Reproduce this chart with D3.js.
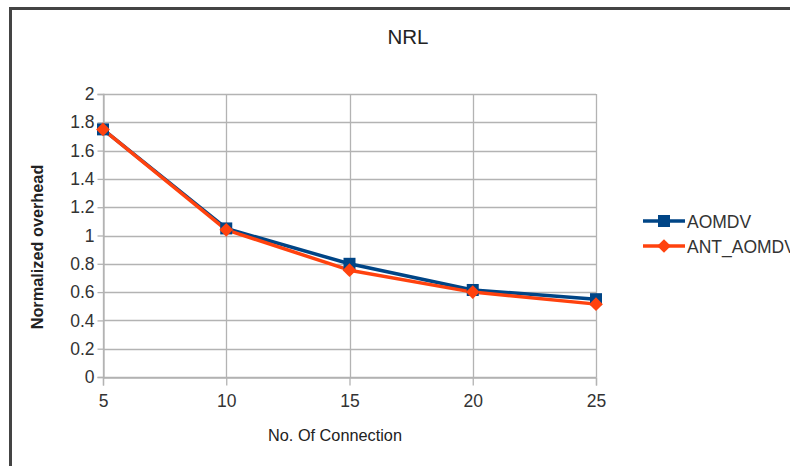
<!DOCTYPE html>
<html>
<head>
<meta charset="utf-8">
<script src="https://cdnjs.cloudflare.com/ajax/libs/d3/7.8.5/d3.min.js"></script>
<style>
html,body{margin:0;padding:0;background:#fff;}
svg{display:block;}
text{font-family:"Liberation Sans",Arial,sans-serif;}
</style>
</head>
<body>
<svg id="chart" width="790" height="466"></svg>
<script>
const connections = [5, 10, 15, 20, 25];
const aomdv = [1.75, 1.05, 0.80, 0.615, 0.55];
const antAomdv = [1.75, 1.04, 0.755, 0.60, 0.515];
const yTicks = [0, 0.2, 0.4, 0.6, 0.8, 1, 1.2, 1.4, 1.6, 1.8, 2];
const xTicks = [5, 10, 15, 20, 25];
const seriesNames = ["AOMDV", "ANT_AOMDV"];

const svg = d3.select("#chart");
const W = 790, H = 466;
const m = {left: 103, right: 596, top: 94, bottom: 377};
const FONT = "Liberation Sans, Arial, sans-serif";

// frame
svg.append("line").attr("x1", 10.5).attr("x2", 10.5).attr("y1", 7).attr("y2", H)
  .attr("stroke", "#444").attr("stroke-width", 3);
svg.append("line").attr("x1", 9).attr("x2", W).attr("y1", 8.5).attr("y2", 8.5)
  .attr("stroke", "#444").attr("stroke-width", 3);

const x = d3.scaleLinear().domain([5, 25]).range([m.left, m.right]);
const y = d3.scaleLinear().domain([0, 2]).range([m.bottom, m.top]);

// title
svg.append("text").attr("x", 408).attr("y", 44).attr("text-anchor", "middle")
  .attr("font-size", 20.5).attr("fill", "#222").text("NRL");

// grid
const g = svg.append("g");
g.selectAll(".hg").data(yTicks).join("line")
  .attr("x1", m.left).attr("x2", m.right)
  .attr("y1", d => Math.round(y(d)) + 0.5).attr("y2", d => Math.round(y(d)) + 0.5)
  .attr("stroke", "#b3b3b3").attr("stroke-width", 1.3);
g.selectAll(".vg").data(xTicks).join("line")
  .attr("x1", d => Math.round(x(d)) + 0.5).attr("x2", d => Math.round(x(d)) + 0.5)
  .attr("y1", m.top).attr("y2", m.bottom)
  .attr("stroke", "#b3b3b3").attr("stroke-width", 1.3);

// axes
const yAxis = d3.axisLeft(y).tickValues(yTicks).tickSize(6).tickPadding(3)
  .tickFormat(d => String(+d.toFixed(1)));
const ya = svg.append("g").attr("transform", `translate(${m.left + 0.5},0)`).call(yAxis);
ya.select(".domain").attr("stroke", "#b3b3b3").attr("stroke-width", 1.3);
ya.selectAll(".tick line").attr("stroke", "#b3b3b3").attr("stroke-width", 1.3);
ya.selectAll("text").attr("font-size", 17.5).attr("fill", "#333").attr("font-family", FONT);

const xAxis = d3.axisBottom(x).tickValues(xTicks).tickSize(8).tickPadding(9);
const xa = svg.append("g").attr("transform", `translate(0,${m.bottom + 0.5})`).call(xAxis);
xa.select(".domain").attr("stroke", "#b3b3b3").attr("stroke-width", 1.3);
xa.selectAll(".tick line").attr("stroke", "#b3b3b3").attr("stroke-width", 1.3);
xa.selectAll("text").attr("font-size", 17.5).attr("fill", "#333").attr("font-family", FONT);

// axis titles
svg.append("text").attr("x", 335).attr("y", 441).attr("text-anchor", "middle")
  .attr("font-size", 16.3).attr("fill", "#222").text("No. Of Connection");
svg.append("text").attr("transform", "translate(43,247) rotate(-90)")
  .attr("text-anchor", "middle").attr("font-size", 16.3).attr("font-weight", "bold")
  .attr("fill", "#222").text("Normalized overhead");

// series
const colors = ["#004586", "#ff420e"];
const data = [aomdv, antAomdv];
const line = d3.line().x((d, i) => x(connections[i])).y(d => y(d));

data.forEach((vals, si) => {
  svg.append("path").datum(vals).attr("d", line).attr("fill", "none")
    .attr("stroke", colors[si]).attr("stroke-width", 3.5).attr("stroke-linejoin", "round");
});
// markers
svg.selectAll(".sq").data(aomdv).join("rect")
  .attr("x", (d, i) => x(connections[i]) - 6).attr("y", d => y(d) - 6)
  .attr("width", 12).attr("height", 12).attr("fill", colors[0]);
const diamond = d3.symbol().type(d3.symbolDiamond2).size(120);
svg.selectAll(".dm").data(antAomdv).join("path")
  .attr("transform", (d, i) => `translate(${x(connections[i])},${y(d)})`)
  .attr("d", diamond).attr("fill", colors[1]);

// legend
const lg = svg.append("g");
seriesNames.forEach((name, i) => {
  const ly = 221 + i * 25;
  lg.append("line").attr("x1", 643).attr("x2", 685).attr("y1", ly).attr("y2", ly)
    .attr("stroke", colors[i]).attr("stroke-width", 3.5);
  if (i === 0) {
    lg.append("rect").attr("x", 658).attr("y", ly - 6).attr("width", 12).attr("height", 12)
      .attr("fill", colors[i]);
  } else {
    lg.append("path").attr("transform", `translate(664,${ly})`).attr("d", diamond)
      .attr("fill", colors[i]);
  }
  lg.append("text").attr("x", 687).attr("y", ly + 6.5).attr("font-size", 17.5)
    .attr("fill", "#333").text(name);
});
</script>
</body>
</html>
